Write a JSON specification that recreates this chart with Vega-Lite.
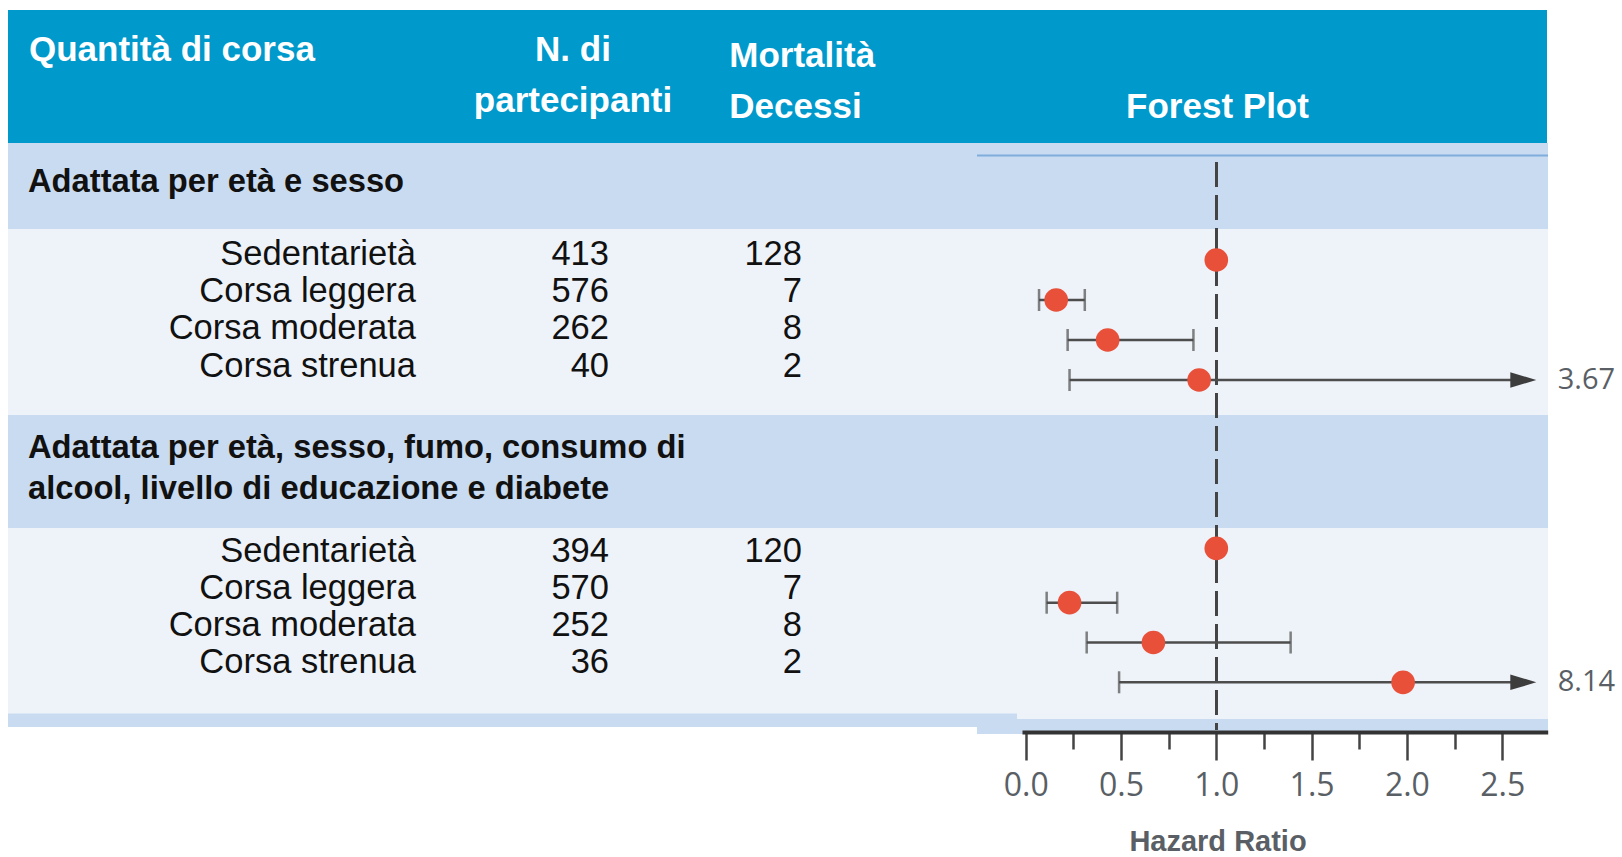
{
  "$schema": "https://vega.github.io/schema/vega-lite/v6.json",
  "autosize": "none",
  "width": 1622,
  "height": 731,
  "padding": {"left": 0, "top": 0, "right": 0, "bottom": 126},
  "background": "white",
  "config": {"view": {"stroke": null}, "axis": {"grid": false}},
  "datasets": {
    "rows": [
      {"grp": 1, "row": 1, "label": "Sedentarietà", "n": 413, "deaths": 128, "hr": 1.0, "lo": null, "hi": null},
      {"grp": 1, "row": 2, "label": "Corsa leggera", "n": 576, "deaths": 7, "hr": 0.16, "lo": 0.07, "hi": 0.31},
      {"grp": 1, "row": 3, "label": "Corsa moderata", "n": 262, "deaths": 8, "hr": 0.43, "lo": 0.22, "hi": 0.88},
      {"grp": 1, "row": 4, "label": "Corsa strenua", "n": 40, "deaths": 2, "hr": 0.91, "lo": 0.23, "hi": 3.67},
      {"grp": 2, "row": 5, "label": "Sedentarietà", "n": 394, "deaths": 120, "hr": 1.0, "lo": null, "hi": null},
      {"grp": 2, "row": 6, "label": "Corsa leggera", "n": 570, "deaths": 7, "hr": 0.23, "lo": 0.11, "hi": 0.48},
      {"grp": 2, "row": 7, "label": "Corsa moderata", "n": 252, "deaths": 8, "hr": 0.67, "lo": 0.32, "hi": 1.39},
      {"grp": 2, "row": 8, "label": "Corsa strenua", "n": 36, "deaths": 2, "hr": 1.98, "lo": 0.49, "hi": 8.14}
    ]
  },
  "layer": [
    {
      "data": {"values": [{}]},
      "layer": [
        {"mark": {"type": "rect", "color": "#0099CC"},
         "encoding": {
           "x": {"datum": 8, "type": "quantitative", "scale": {"domain": [0, 1622], "range": [0, 1622], "nice": false, "zero": false}, "axis": null},
           "x2": {"datum": 1547},
           "y": {"datum": 10, "type": "quantitative", "scale": {"domain": [0, 731], "range": [0, 731], "nice": false, "zero": false}, "axis": null},
           "y2": {"datum": 143}}},
        {"mark": {"type": "rect", "color": "#C9DBF0"},
         "encoding": {"x": {"datum": 8, "type": "quantitative"}, "x2": {"datum": 1548}, "y": {"datum": 143, "type": "quantitative"}, "y2": {"datum": 229}}},
        {"mark": {"type": "rect", "color": "#EEF3FA"},
         "encoding": {"x": {"datum": 8, "type": "quantitative"}, "x2": {"datum": 1548}, "y": {"datum": 229, "type": "quantitative"}, "y2": {"datum": 415}}},
        {"mark": {"type": "rect", "color": "#C9DBF0"},
         "encoding": {"x": {"datum": 8, "type": "quantitative"}, "x2": {"datum": 1548}, "y": {"datum": 415, "type": "quantitative"}, "y2": {"datum": 528}}},
        {"mark": {"type": "rect", "color": "#EEF3FA"},
         "encoding": {"x": {"datum": 8, "type": "quantitative"}, "x2": {"datum": 1548}, "y": {"datum": 528, "type": "quantitative"}, "y2": {"datum": 719}}},
        {"mark": {"type": "rect", "color": "#C9DBF0"},
         "encoding": {"x": {"datum": 8, "type": "quantitative"}, "x2": {"datum": 1017}, "y": {"datum": 713.5, "type": "quantitative"}, "y2": {"datum": 727}}},
        {"mark": {"type": "rect", "color": "#C9DBF0"},
         "encoding": {"x": {"datum": 977, "type": "quantitative"}, "x2": {"datum": 1548}, "y": {"datum": 719, "type": "quantitative"}, "y2": {"datum": 734}}},
        {"mark": {"type": "rule", "color": "#7FAEDD", "strokeWidth": 2},
         "encoding": {"x": {"datum": 977, "type": "quantitative"}, "x2": {"datum": 1548}, "y": {"datum": 155.5, "type": "quantitative"}}},
        {"mark": {"type": "text", "text": "Quantità di corsa", "align": "left", "baseline": "alphabetic", "font": "Liberation Sans", "fontWeight": "bold", "fontSize": 35, "color": "white"},
         "encoding": {"x": {"datum": 29, "type": "quantitative"}, "y": {"datum": 60.7, "type": "quantitative"}}},
        {"mark": {"type": "text", "text": ["N. di", "partecipanti"], "lineHeight": 51, "align": "center", "baseline": "alphabetic", "font": "Liberation Sans", "fontWeight": "bold", "fontSize": 35, "color": "white"},
         "encoding": {"x": {"datum": 573, "type": "quantitative"}, "y": {"datum": 60.7, "type": "quantitative"}}},
        {"mark": {"type": "text", "text": ["Mortalità", "Decessi"], "lineHeight": 51, "align": "left", "baseline": "alphabetic", "font": "Liberation Sans", "fontWeight": "bold", "fontSize": 35, "color": "white"},
         "encoding": {"x": {"datum": 729.3, "type": "quantitative"}, "y": {"datum": 67.3, "type": "quantitative"}}},
        {"mark": {"type": "text", "text": "Forest Plot", "align": "center", "baseline": "alphabetic", "font": "Liberation Sans", "fontWeight": "bold", "fontSize": 35, "color": "white"},
         "encoding": {"x": {"datum": 1217.5, "type": "quantitative"}, "y": {"datum": 118.3, "type": "quantitative"}}},
        {"mark": {"type": "text", "text": "Adattata per età e sesso", "align": "left", "baseline": "alphabetic", "font": "Liberation Sans", "fontWeight": "bold", "fontSize": 32.7, "color": "#111111"},
         "encoding": {"x": {"datum": 28, "type": "quantitative"}, "y": {"datum": 191.7, "type": "quantitative"}}},
        {"mark": {"type": "text", "text": ["Adattata per età, sesso, fumo, consumo di", "alcool, livello di educazione e diabete"], "lineHeight": 41, "align": "left", "baseline": "alphabetic", "font": "Liberation Sans", "fontWeight": "bold", "fontSize": 32.7, "color": "#111111"},
         "encoding": {"x": {"datum": 28, "type": "quantitative"}, "y": {"datum": 458.3, "type": "quantitative"}}}
      ]
    },
    {
      "data": {"name": "rows"},
      "transform": [{"fold": ["label", "n", "deaths"], "as": ["key", "cell"]}],
      "mark": {"type": "text", "align": "right", "baseline": "alphabetic", "font": "Liberation Sans", "fontSize": 34.5, "color": "#111111"},
      "encoding": {
        "x": {"field": "key", "type": "nominal", "scale": {"type": "point", "domain": ["label", "n", "deaths"], "range": [416, 802], "padding": 0}, "axis": null},
        "y": {"field": "row", "type": "quantitative", "scale": {"domain": [1, 4, 5, 8], "range": [264.5, 376.5, 561.5, 672.5], "nice": false, "zero": false}, "axis": null},
        "text": {"field": "cell", "type": "nominal"}
      }
    },
    {
      "data": {"name": "rows"},
      "layer": [
        {"mark": {"type": "rule", "strokeDash": [25, 8], "color": "#444444", "strokeWidth": 2.2},
         "encoding": {
           "x": {"datum": 1, "type": "quantitative",
                 "scale": {"domain": [-0.0194, 2.7387], "range": [1022, 1547.7], "clamp": true, "nice": false, "zero": false},
                 "axis": {
                   "orient": "bottom",
                   "values": [0, 0.25, 0.5, 0.75, 1, 1.25, 1.5, 1.75, 2, 2.25, 2.5],
                   "labelExpr": "datum.value % 0.5 === 0 ? format(datum.value, '.1f') : ''",
                   "tickSize": {"condition": {"test": "datum.value % 0.5 !== 0", "value": 17}, "value": 28},
                   "tickWidth": 2.5, "tickColor": "#444444",
                   "domainColor": "#333333", "domainWidth": 4, "domainCap": "butt",
                   "offset": 1, "zindex": 1,
                   "labelFont": "Open Sans", "labelFontSize": 32, "labelColor": "#5a5f66", "labelPadding": 10,
                   "labelFlush": false, "labelOverlap": false,
                   "title": "Hazard Ratio", "titleFont": "Liberation Sans", "titleFontWeight": "bold", "titleFontSize": 29, "titleColor": "#5a5f66",
                   "titleX": 1217.5, "titleY": 118, "titleBaseline": "alphabetic", "titleAlign": "center"
                 }},
           "y": {"datum": -1.45, "type": "quantitative", "scale": {"domain": [1, 4, 5, 6, 8], "range": [260, 380, 548.3, 602.7, 682.3], "nice": false, "zero": false}, "axis": null},
           "y2": {"datum": 9.2}}},
        {"transform": [{"filter": "datum.hi != null && datum.hi < 2.7"}],
         "mark": {"type": "rule", "color": "#4d4d4d", "strokeWidth": 2.5},
         "encoding": {"x": {"field": "lo", "type": "quantitative"}, "x2": {"field": "hi"}, "y": {"field": "row", "type": "quantitative"}}},
        {"transform": [{"filter": "datum.hi != null && datum.hi >= 2.7"}],
         "mark": {"type": "rule", "color": "#4d4d4d", "strokeWidth": 2.5, "x2Offset": -20},
         "encoding": {"x": {"field": "lo", "type": "quantitative"}, "x2": {"field": "hi"}, "y": {"field": "row", "type": "quantitative"}}},
        {"transform": [{"filter": "datum.lo != null"}],
         "mark": {"type": "tick", "orient": "vertical", "size": 22, "thickness": 2.5, "color": "#4d4d4d"},
         "encoding": {"x": {"field": "lo", "type": "quantitative"}, "y": {"field": "row", "type": "quantitative"}}},
        {"transform": [{"filter": "datum.hi != null && datum.hi < 2.7"}],
         "mark": {"type": "tick", "orient": "vertical", "size": 22, "thickness": 2.5, "color": "#4d4d4d"},
         "encoding": {"x": {"field": "hi", "type": "quantitative"}, "y": {"field": "row", "type": "quantitative"}}},
        {"transform": [{"filter": "datum.hi != null && datum.hi >= 2.7"}],
         "mark": {"type": "point", "shape": "M -1 -0.6 L 1 0 L -1 0.6 Z", "size": 676, "filled": true, "opacity": 1, "color": "#3d3d3d", "xOffset": -24.4},
         "encoding": {"x": {"field": "hi", "type": "quantitative"}, "y": {"field": "row", "type": "quantitative"}}},
        {"transform": [{"filter": "datum.hi != null && datum.hi >= 2.7"}],
         "mark": {"type": "text", "align": "left", "baseline": "middle", "dx": 10, "font": "Open Sans", "fontSize": 29, "color": "#5a5f66"},
         "encoding": {"x": {"field": "hi", "type": "quantitative"}, "y": {"field": "row", "type": "quantitative"}, "text": {"field": "hi", "type": "quantitative", "format": ".2f"}}},
        {"mark": {"type": "point", "shape": "circle", "size": 560, "filled": true, "opacity": 1, "color": "#E8503A"},
         "encoding": {"x": {"field": "hr", "type": "quantitative"}, "y": {"field": "row", "type": "quantitative"}}}
      ]
    }
  ],
  "resolve": {"scale": {"x": "independent", "y": "independent"}}
}
